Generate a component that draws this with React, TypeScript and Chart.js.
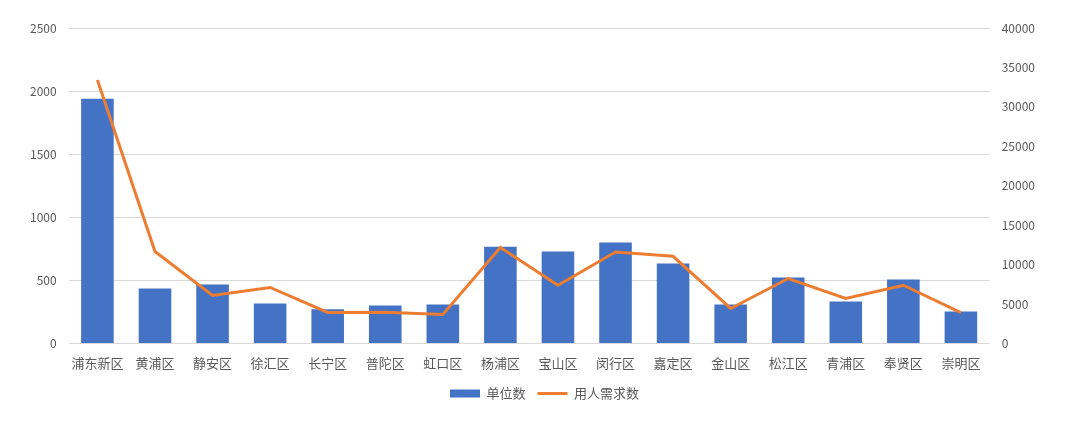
import React, { useEffect, useRef } from "react";
import { Chart, registerables } from "chart.js";

Chart.register(...registerables);

const categories = ["浦东新区", "黄浦区", "静安区", "徐汇区", "长宁区", "普陀区", "虹口区", "杨浦区", "宝山区", "闵行区", "嘉定区", "金山区", "松江区", "青浦区", "奉贤区", "崇明区"];
const unitCounts = [1940, 435, 467, 316, 270, 300, 308, 767, 728, 799, 633, 308, 522, 332, 506, 253];
const demandCounts = [33400, 11650, 6080, 7090, 3920, 3950, 3670, 12150, 7380, 11600, 11050, 4430, 8230, 5700, 7380, 3890];
const unitLabel = "单位数";
const demandLabel = "用人需求数";

const FONT = "'Noto Sans CJK SC', 'Noto Sans', sans-serif";
const TEXT = "#595959";

const legendShift = {
  id: "legendShift",
  afterLayout(chart: any) {
    const lg = chart.legend;
    if (lg) {
      lg.left += 12;
      lg.right += 12;
    }
  },
};

export default function App() {
  const ref = useRef<HTMLCanvasElement | null>(null);
  useEffect(() => {
    if (!ref.current) return;
    const chart = new Chart(ref.current, {
      type: "bar",
      data: {
        labels: categories,
        datasets: [
          {
            type: "line",
            label: demandLabel,
            data: demandCounts,
            yAxisID: "y1",
            borderColor: "#ED7D31",
            backgroundColor: "#ED7D31",
            borderWidth: 3,
            pointRadius: 0,
            pointStyle: "line",
            tension: 0,
            order: 0,
          },
          {
            type: "bar",
            label: unitLabel,
            data: unitCounts,
            yAxisID: "y",
            backgroundColor: "#4472C4",
            borderColor: "#4472C4",
            borderWidth: 0,
            pointStyle: "rect",
            categoryPercentage: 1,
            barPercentage: 0.566,
            order: 1,
          },
        ],
      },
      plugins: [legendShift],
      options: {
        animation: false,
        responsive: false,
        maintainAspectRatio: false,
        layout: { padding: { top: 28, left: 18, right: 33, bottom: 15 } },
        plugins: {
          tooltip: { enabled: false },
          legend: {
            position: "bottom",
            reverse: true,
            labels: {
              usePointStyle: true,
              pointStyleWidth: 30,
              boxHeight: 8,
              padding: 12,
              color: TEXT,
              font: { family: FONT, size: 13 },
            },
          },
        },
        scales: {
          x: {
            grid: { display: false },
            border: { display: false },
            ticks: { color: TEXT, font: { family: FONT, size: 13 }, padding: 4, maxRotation: 0 },
          },
          y: {
            position: "left",
            min: 0,
            max: 2500,
            grid: { color: "#D9D9D9", drawTicks: false, lineWidth: 1 },
            border: { display: false },
            ticks: {
              stepSize: 500,
              color: TEXT,
              font: { family: FONT, size: 12 },
              padding: 12,
              callback: (v: any) => String(v),
            },
          },
          y1: {
            position: "right",
            min: 0,
            max: 40000,
            grid: { display: false, drawTicks: false },
            border: { display: false },
            ticks: {
              stepSize: 5000,
              color: TEXT,
              font: { family: FONT, size: 12 },
              padding: 12,
              callback: (v: any) => String(v),
            },
          },
        },
      },
    });
    return () => chart.destroy();
  }, []);
  return (
    <div style={{ position: "fixed", left: 0, top: 0, width: 1080, height: 425, background: "#fff" }}>
      <canvas ref={ref} width={1080} height={425} style={{ width: 1080, height: 425 }} />
    </div>
  );
}
